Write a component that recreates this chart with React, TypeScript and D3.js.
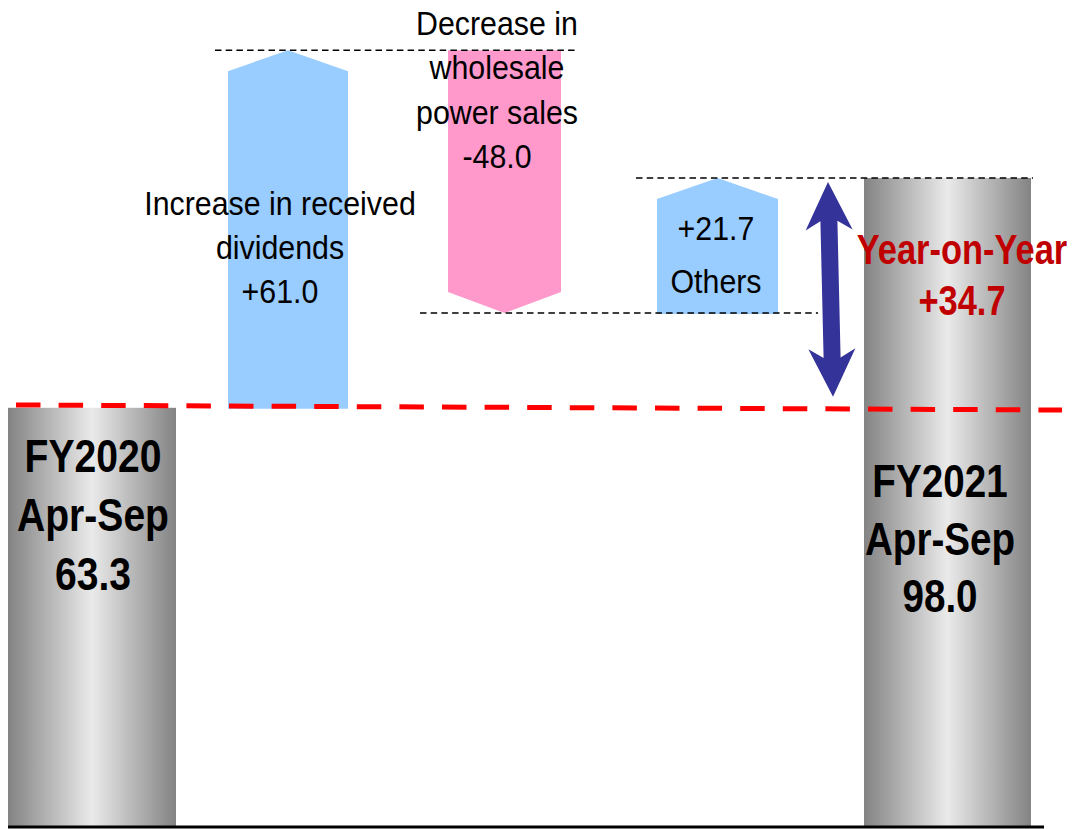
import React from "react";
import * as d3 from "d3";

// ---- data ----
const categories = ["FY2020", "Dividends", "Wholesale", "Others", "FY2021"];
const startValue = 63.3;
const changeNames = ["Increase in received dividends", "Decrease in wholesale power sales", "Others"];
const changeValues = [61.0, -48.0, 21.7];
const endValue = 98.0;
const yoyChange = 34.7;
// schematic levels of the drawn steps (the picture is not to scale)
const drawnLevels = [63.3, 117.3, 77.6, 98.0];
const periodLabel = "Apr-Sep";

const W = 1072;
const H = 829;

const fmtSigned = (v: number) => (v > 0 ? "+" : "-") + Math.abs(v).toFixed(1);

export default function App() {
  const y = d3.scaleLinear().domain([0, endValue]).range([827, 178]);
  // irregular layout of the five columns
  const x = d3
    .scaleOrdinal<string, number>()
    .domain(categories)
    .range([92, 288, 504.5, 717.5, 947.5]);
  const widths = d3.scaleOrdinal<string, number>().domain(categories).range([168, 120, 113, 121, 167]);

  const headH = 21;
  const levelsBefore = [drawnLevels[0], drawnLevels[1], drawnLevels[2]];
  const levelsAfter = [drawnLevels[1], drawnLevels[2], drawnLevels[3]];
  const stepCats = categories.slice(1, 4);

  const arrowPath = (i: number) => {
    const c = stepCats[i];
    const cx = x(c);
    const w = widths(c);
    const x0 = cx - w / 2;
    const x1 = cx + w / 2;
    const v = changeValues[i];
    const yFrom = y(levelsBefore[i]);
    const yTo = y(levelsAfter[i]);
    if (v > 0) {
      const yb = yFrom + 1;
      return `M${x0},${yb}L${x0},${yTo + headH}L${cx},${yTo}L${x1},${yTo + headH}L${x1},${yb}Z`;
    }
    return `M${x0},${yFrom}L${x1},${yFrom}L${x1},${yTo - headH}L${cx},${yTo}L${x0},${yTo - headH}Z`;
  };

  // double arrow
  const t1 = [828, y(endValue) + 4];
  const t2 = [833, y(startValue) - 11];
  const dx = t2[0] - t1[0];
  const dy = t2[1] - t1[1];
  const len = Math.hypot(dx, dy);
  const ux = dx / len, uy = dy / len;
  const nx = -uy, ny = ux;
  const hl = 48, hw = 23.5, sw = 8.5, notch = 9;
  const P = (base: number[], along: number, side: number) => [
    base[0] + ux * along + nx * side,
    base[1] + uy * along + ny * side,
  ];
  const dblPts = [
    t1,
    P(t1, hl, hw),
    P(t1, hl - notch, sw),
    P(t2, -(hl - notch), sw),
    P(t2, -hl, hw),
    t2,
    P(t2, -hl, -hw),
    P(t2, -(hl - notch), -sw),
    P(t1, hl - notch, -sw),
    P(t1, hl, -hw),
  ];
  const dblPath = "M" + dblPts.map((p) => p.join(",")).join("L") + "Z";

  const regFont = "'Liberation Sans', Arial, sans-serif";

  const label = (
    lines: string[],
    cx: number,
    y0: number,
    dy: number,
    size: number,
    cond: number,
    weight: string,
    fill: string,
    key: string
  ) => (
    <g key={key}>
      {lines.map((l, i) => (
        <text
          key={i}
          transform={`translate(${cx},${y0 + i * dy}) scale(${cond},1)`}
          fontFamily={regFont}
          fontWeight={weight}
          fontSize={size}
          textAnchor="middle"
          fill={fill}
        >
          {l}
        </text>
      ))}
    </g>
  );

  const dashLine = (x0: number, x1: number, yy: number, key: string) => (
    <line key={key} x1={x0} x2={x1} y1={yy} y2={yy} stroke="#000" strokeWidth={1.5} strokeDasharray="6.5 4.2" />
  );

  const redY = y(startValue);

  return (
    <svg width={W} height={H} style={{ position: "absolute", left: 0, top: 0 }}>
      <defs>
        <linearGradient id="gray" x1="0" x2="1" y1="0" y2="0">
          <stop offset="0" stopColor="#838383" />
          <stop offset="0.5" stopColor="#eaeaea" />
          <stop offset="1" stopColor="#838383" />
        </linearGradient>
      </defs>
      <rect width={W} height={H} fill="#fff" />

      {/* end bars */}
      {[categories[0], categories[4]].map((c, i) => {
        const v = i === 0 ? startValue : endValue;
        return (
          <rect
            key={c}
            x={x(c) - widths(c) / 2}
            width={widths(c)}
            y={y(v)}
            height={y(0) - y(v)}
            fill="url(#gray)"
          />
        );
      })}

      {/* step arrows */}
      {changeValues.map((v, i) => (
        <path key={i} d={arrowPath(i)} fill={v > 0 ? "#99ccff" : "#ff99cc"} />
      ))}

      {/* connector dashed lines */}
      {dashLine(215, 578, y(drawnLevels[1]), "d1")}
      {dashLine(420, 818, y(drawnLevels[2]), "d2")}
      {dashLine(636, 1033, y(drawnLevels[3]), "d3")}

      {/* red reference line */}
      <line
        x1={16}
        x2={1062}
        y1={redY - 2.8}
        y2={redY + 2.2}
        stroke="#ff0000"
        strokeWidth={5}
        strokeDasharray="24.5 18.1"
      />

      {/* YoY double arrow */}
      <path d={dblPath} fill="#333399" />

      {/* axis line */}
      <line x1={8} x2={1044} y1={827} y2={827} stroke="#000" strokeWidth={3} />

      {/* labels */}
      {label(["Increase in received", "dividends", fmtSigned(changeValues[0])], 280, 215, 44, 33, 0.92, "normal", "#000", "l1")}
      {label(["Decrease in", "wholesale", "power sales", fmtSigned(changeValues[1])], 497, 35, 44.3, 33, 0.92, "normal", "#000", "l2")}
      {label([fmtSigned(changeValues[2]), changeNames[2]], 716, 240, 53, 33, 0.92, "normal", "#000", "l3")}
      {label([categories[0], periodLabel, startValue.toFixed(1)], 93, 472, 59, 46, 0.85, "bold", "#000", "b1")}
      {label([categories[4], periodLabel, endValue.toFixed(1)], 940, 497, 57.5, 46, 0.84, "bold", "#000", "b2")}
      {label(["Year-on-Year", fmtSigned(yoyChange)], 962, 264, 51, 42, 0.82, "bold", "#c00000", "b3")}
    </svg>
  );
}
